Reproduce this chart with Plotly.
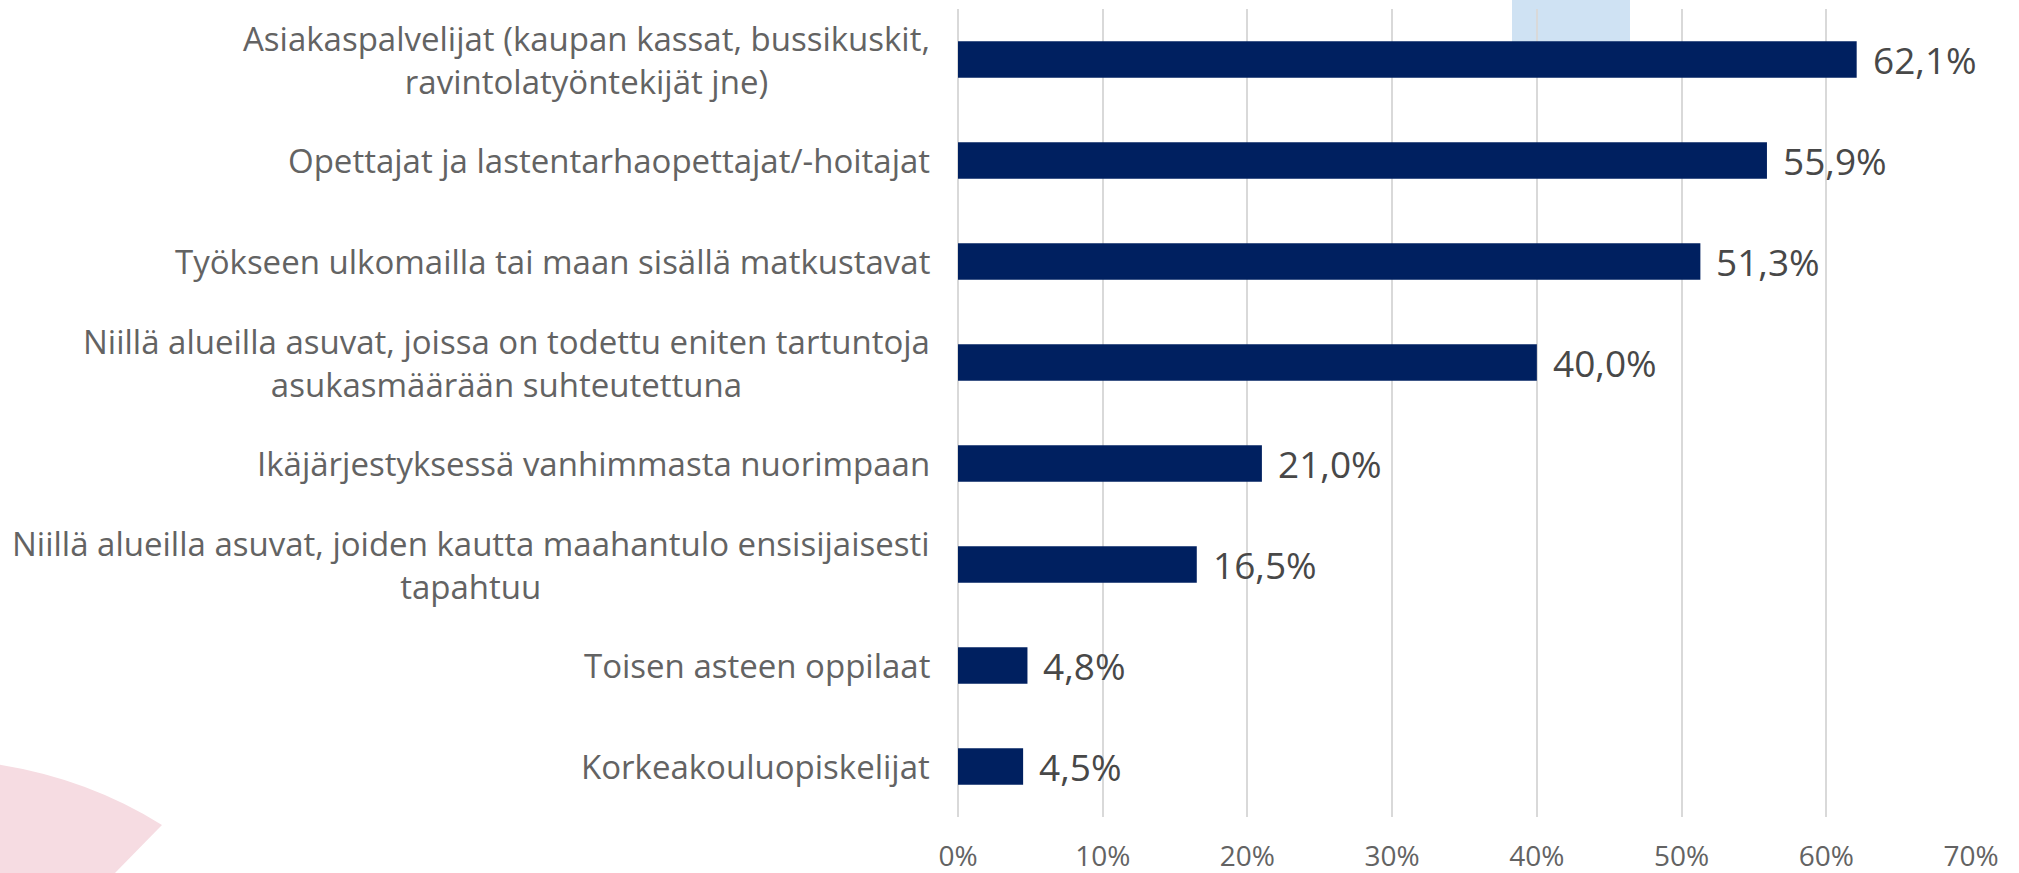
"""
Vaakapylväät: ketkä pitäisi rokottaa ensin (osuus vastaajista)
"""
import plotly.graph_objects as go

# Kategoriat ylhäältä alas
categories = [
    "Asiakaspalvelijat (kaupan kassat, bussikuskit,<br>ravintolatyöntekijät jne)",
    "Opettajat ja lastentarhaopettajat/-hoitajat",
    "Työkseen ulkomailla tai maan sisällä matkustavat",
    "Niillä alueilla asuvat, joissa on todettu eniten tartuntoja<br>asukasmäärään suhteutettuna",
    "Ikäjärjestyksessä vanhimmasta nuorimpaan",
    "Niillä alueilla asuvat, joiden kautta maahantulo ensisijaisesti<br>tapahtuu",
    "Toisen asteen oppilaat",
    "Korkeakouluopiskelijat",
]
values = [62.1, 55.9, 51.3, 40.0, 21.0, 16.5, 4.8, 4.5]
tick_values = [0, 10, 20, 30, 40, 50, 60, 70]
tick_text = [f"{t}%" for t in tick_values]

BAR_COLOR = "#002060"
TEXT_GRAY = "#636363"
LABEL_DARK = "#484848"
FONT = "Open Sans"

# Sivun mitat ja piirtoalue (px)
W, H = 2019, 873
M_L, M_R, M_T, M_B = 958, 48, 9, 56
PW, PH = W - M_L - M_R, H - M_T - M_B


def px(x, y):
    """Pikselit -> paper-koordinaatit"""
    return (x - M_L) / PW, (H - M_B - y) / PH


fig = go.Figure()

fig.add_trace(go.Bar(
    x=values,
    y=categories,
    orientation="h",
    marker=dict(color=BAR_COLOR, line=dict(width=0)),
    hoverinfo="skip",
))

annotations = []
# Kategorioiden nimet (keskitetyt rivit, oikealle tasattu)
for cat in categories:
    annotations.append(dict(
        x=0, xref="paper", y=cat, yref="y",
        text=cat, showarrow=False,
        xanchor="right", yanchor="middle", align="center",
        xshift=-26,
        font=dict(family=FONT, size=33, color=TEXT_GRAY),
    ))
# Arvot pylväiden perään
for cat, v in zip(categories, values):
    annotations.append(dict(
        x=v, xref="x", y=cat, yref="y",
        text=f"{v:.1f}".replace(".", ",") + "%",
        showarrow=False, xanchor="left", yanchor="middle",
        xshift=14,
        font=dict(family=FONT, size=37, color=LABEL_DARK),
    ))

# Taustan koristeet
x0, y0 = px(1512, 0)
x1, y1 = px(1630, 55)
shapes = [dict(
    type="rect", xref="paper", yref="paper",
    x0=x0, y0=y0, x1=x1, y1=y1,
    fillcolor="#CFE2F3", line=dict(width=0), layer="below",
)]
pts = [px(-5, 764), px(87, 778), px(162, 825), px(115, 873), px(-5, 873)]
path = "M {:.4f},{:.4f} Q {:.4f},{:.4f} {:.4f},{:.4f} L {:.4f},{:.4f} L {:.4f},{:.4f} Z".format(
    *[c for p in pts for c in p])
shapes.append(dict(
    type="path", xref="paper", yref="paper", path=path,
    fillcolor="#F6DCE2", line=dict(width=0), layer="below",
))

fig.update_layout(
    width=W, height=H,
    margin=dict(l=M_L, r=M_R, t=M_T, b=M_B),
    paper_bgcolor="white",
    plot_bgcolor="rgba(0,0,0,0)",
    bargap=0.64,
    showlegend=False,
    annotations=annotations,
    shapes=shapes,
    xaxis=dict(
        range=[0, 70],
        tickvals=tick_values,
        ticktext=tick_text,
        showgrid=True, gridcolor="#D9D9D9", gridwidth=2,
        zeroline=True, zerolinecolor="#D9D9D9", zerolinewidth=2,
        showline=False, ticks="",
        automargin=False,
        ticklabelstandoff=20,
        tickfont=dict(family=FONT, size=28, color=TEXT_GRAY),
    ),
    yaxis=dict(
        autorange="reversed",
        automargin=False,
        showticklabels=False,
        showgrid=False, zeroline=False, showline=False, ticks="",
    ),
)

# sivun oletusmarginaali pois, jotta kuva alkaa kulmasta
fig.write_html(
    "out.html",
    config={"displayModeBar": False},
    post_script="document.body.style.margin='0';",
)
